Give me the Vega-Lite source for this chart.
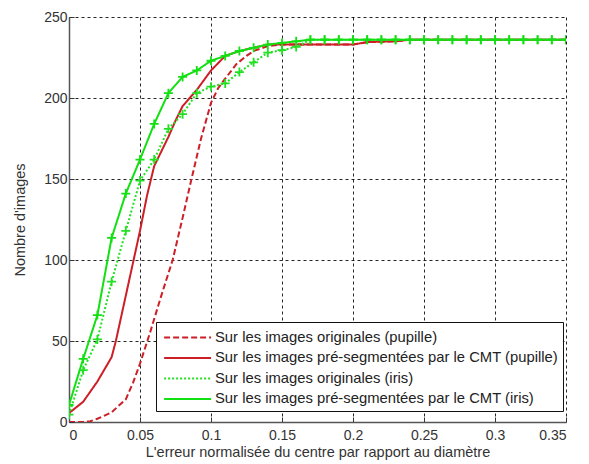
{
  "$schema": "https://vega.github.io/schema/vega-lite/v6.json",
  "width": 497,
  "height": 405,
  "autosize": "none",
  "padding": {"left": 69, "top": 17, "right": 23, "bottom": 42},
  "background": "white",
  "config": {
    "view": {"stroke": null},
    "font": "Liberation Sans",
    "axis": {
      "labelFont": "Liberation Sans",
      "titleFont": "Liberation Sans",
      "labelFontSize": 14,
      "titleFontSize": 14.5,
      "titleFontWeight": "normal",
      "labelColor": "#333",
      "titleColor": "#333",
      "grid": true,
      "gridColor": "#000",
      "gridDash": [3, 3],
      "gridOpacity": 0.85,
      "gridWidth": 1,
      "tickSize": -5,
      "tickColor": "#333",
      "domainColor": "#555",
      "domainWidth": 1.5
    }
  },
  "data": {
    "values": [
      {"series": "Sur les images originales (pupille)", "x": 0, "y": 0},
      {"series": "Sur les images originales (pupille)", "x": 0.01, "y": 0},
      {"series": "Sur les images originales (pupille)", "x": 0.015, "y": 0.5},
      {"series": "Sur les images originales (pupille)", "x": 0.02, "y": 2},
      {"series": "Sur les images originales (pupille)", "x": 0.03, "y": 6},
      {"series": "Sur les images originales (pupille)", "x": 0.04, "y": 14},
      {"series": "Sur les images originales (pupille)", "x": 0.045, "y": 24},
      {"series": "Sur les images originales (pupille)", "x": 0.05, "y": 36},
      {"series": "Sur les images originales (pupille)", "x": 0.057, "y": 55},
      {"series": "Sur les images originales (pupille)", "x": 0.065, "y": 78},
      {"series": "Sur les images originales (pupille)", "x": 0.073, "y": 100},
      {"series": "Sur les images originales (pupille)", "x": 0.08, "y": 126},
      {"series": "Sur les images originales (pupille)", "x": 0.086, "y": 149},
      {"series": "Sur les images originales (pupille)", "x": 0.093, "y": 175},
      {"series": "Sur les images originales (pupille)", "x": 0.1, "y": 197},
      {"series": "Sur les images originales (pupille)", "x": 0.105, "y": 206},
      {"series": "Sur les images originales (pupille)", "x": 0.11, "y": 212},
      {"series": "Sur les images originales (pupille)", "x": 0.118, "y": 221},
      {"series": "Sur les images originales (pupille)", "x": 0.125, "y": 226},
      {"series": "Sur les images originales (pupille)", "x": 0.13, "y": 229},
      {"series": "Sur les images originales (pupille)", "x": 0.14, "y": 232},
      {"series": "Sur les images originales (pupille)", "x": 0.15, "y": 233},
      {"series": "Sur les images originales (pupille)", "x": 0.2, "y": 233},
      {"series": "Sur les images originales (pupille)", "x": 0.21, "y": 234.5},
      {"series": "Sur les images originales (pupille)", "x": 0.23, "y": 235},
      {"series": "Sur les images originales (pupille)", "x": 0.24, "y": 236},
      {"series": "Sur les images originales (pupille)", "x": 0.35, "y": 236},

      {"series": "Sur les images pré-segmentées par le CMT (pupille)", "x": 0, "y": 5.5},
      {"series": "Sur les images pré-segmentées par le CMT (pupille)", "x": 0.01, "y": 12.5},
      {"series": "Sur les images pré-segmentées par le CMT (pupille)", "x": 0.02, "y": 25},
      {"series": "Sur les images pré-segmentées par le CMT (pupille)", "x": 0.03, "y": 40},
      {"series": "Sur les images pré-segmentées par le CMT (pupille)", "x": 0.033, "y": 50},
      {"series": "Sur les images pré-segmentées par le CMT (pupille)", "x": 0.04, "y": 78},
      {"series": "Sur les images pré-segmentées par le CMT (pupille)", "x": 0.05, "y": 118},
      {"series": "Sur les images pré-segmentées par le CMT (pupille)", "x": 0.055, "y": 140},
      {"series": "Sur les images pré-segmentées par le CMT (pupille)", "x": 0.06, "y": 158},
      {"series": "Sur les images pré-segmentées par le CMT (pupille)", "x": 0.065, "y": 167},
      {"series": "Sur les images pré-segmentées par le CMT (pupille)", "x": 0.07, "y": 176},
      {"series": "Sur les images pré-segmentées par le CMT (pupille)", "x": 0.075, "y": 186},
      {"series": "Sur les images pré-segmentées par le CMT (pupille)", "x": 0.08, "y": 195},
      {"series": "Sur les images pré-segmentées par le CMT (pupille)", "x": 0.09, "y": 205},
      {"series": "Sur les images pré-segmentées par le CMT (pupille)", "x": 0.1, "y": 217},
      {"series": "Sur les images pré-segmentées par le CMT (pupille)", "x": 0.11, "y": 226},
      {"series": "Sur les images pré-segmentées par le CMT (pupille)", "x": 0.12, "y": 229},
      {"series": "Sur les images pré-segmentées par le CMT (pupille)", "x": 0.13, "y": 231},
      {"series": "Sur les images pré-segmentées par le CMT (pupille)", "x": 0.14, "y": 233},
      {"series": "Sur les images pré-segmentées par le CMT (pupille)", "x": 0.2, "y": 233},
      {"series": "Sur les images pré-segmentées par le CMT (pupille)", "x": 0.21, "y": 234.5},
      {"series": "Sur les images pré-segmentées par le CMT (pupille)", "x": 0.23, "y": 235},
      {"series": "Sur les images pré-segmentées par le CMT (pupille)", "x": 0.24, "y": 236},
      {"series": "Sur les images pré-segmentées par le CMT (pupille)", "x": 0.35, "y": 236},

      {"series": "Sur les images originales (iris)", "x": 0, "y": 4.5},
      {"series": "Sur les images originales (iris)", "x": 0.01, "y": 32},
      {"series": "Sur les images originales (iris)", "x": 0.02, "y": 51},
      {"series": "Sur les images originales (iris)", "x": 0.03, "y": 86.6},
      {"series": "Sur les images originales (iris)", "x": 0.04, "y": 118},
      {"series": "Sur les images originales (iris)", "x": 0.05, "y": 149},
      {"series": "Sur les images originales (iris)", "x": 0.06, "y": 162},
      {"series": "Sur les images originales (iris)", "x": 0.07, "y": 181},
      {"series": "Sur les images originales (iris)", "x": 0.08, "y": 190},
      {"series": "Sur les images originales (iris)", "x": 0.09, "y": 203},
      {"series": "Sur les images originales (iris)", "x": 0.1, "y": 207},
      {"series": "Sur les images originales (iris)", "x": 0.11, "y": 209},
      {"series": "Sur les images originales (iris)", "x": 0.12, "y": 216},
      {"series": "Sur les images originales (iris)", "x": 0.13, "y": 222},
      {"series": "Sur les images originales (iris)", "x": 0.14, "y": 228},
      {"series": "Sur les images originales (iris)", "x": 0.15, "y": 229.5},
      {"series": "Sur les images originales (iris)", "x": 0.16, "y": 231.5},
      {"series": "Sur les images originales (iris)", "x": 0.17, "y": 236},
      {"series": "Sur les images originales (iris)", "x": 0.18, "y": 236},
      {"series": "Sur les images originales (iris)", "x": 0.19, "y": 236},
      {"series": "Sur les images originales (iris)", "x": 0.2, "y": 236},
      {"series": "Sur les images originales (iris)", "x": 0.21, "y": 236},
      {"series": "Sur les images originales (iris)", "x": 0.22, "y": 236},
      {"series": "Sur les images originales (iris)", "x": 0.23, "y": 236},
      {"series": "Sur les images originales (iris)", "x": 0.24, "y": 236},
      {"series": "Sur les images originales (iris)", "x": 0.25, "y": 236},
      {"series": "Sur les images originales (iris)", "x": 0.26, "y": 236},
      {"series": "Sur les images originales (iris)", "x": 0.27, "y": 236},
      {"series": "Sur les images originales (iris)", "x": 0.28, "y": 236},
      {"series": "Sur les images originales (iris)", "x": 0.29, "y": 236},
      {"series": "Sur les images originales (iris)", "x": 0.3, "y": 236},
      {"series": "Sur les images originales (iris)", "x": 0.31, "y": 236},
      {"series": "Sur les images originales (iris)", "x": 0.32, "y": 236},
      {"series": "Sur les images originales (iris)", "x": 0.33, "y": 236},
      {"series": "Sur les images originales (iris)", "x": 0.34, "y": 236},
      {"series": "Sur les images originales (iris)", "x": 0.35, "y": 236},

      {"series": "Sur les images pré-segmentées par le CMT (iris)", "x": 0, "y": 10.5},
      {"series": "Sur les images pré-segmentées par le CMT (iris)", "x": 0.01, "y": 39},
      {"series": "Sur les images pré-segmentées par le CMT (iris)", "x": 0.02, "y": 66},
      {"series": "Sur les images pré-segmentées par le CMT (iris)", "x": 0.03, "y": 113.6},
      {"series": "Sur les images pré-segmentées par le CMT (iris)", "x": 0.04, "y": 141},
      {"series": "Sur les images pré-segmentées par le CMT (iris)", "x": 0.05, "y": 162},
      {"series": "Sur les images pré-segmentées par le CMT (iris)", "x": 0.06, "y": 184},
      {"series": "Sur les images pré-segmentées par le CMT (iris)", "x": 0.07, "y": 203},
      {"series": "Sur les images pré-segmentées par le CMT (iris)", "x": 0.08, "y": 213},
      {"series": "Sur les images pré-segmentées par le CMT (iris)", "x": 0.09, "y": 217},
      {"series": "Sur les images pré-segmentées par le CMT (iris)", "x": 0.1, "y": 223},
      {"series": "Sur les images pré-segmentées par le CMT (iris)", "x": 0.11, "y": 226},
      {"series": "Sur les images pré-segmentées par le CMT (iris)", "x": 0.12, "y": 229},
      {"series": "Sur les images pré-segmentées par le CMT (iris)", "x": 0.13, "y": 231},
      {"series": "Sur les images pré-segmentées par le CMT (iris)", "x": 0.14, "y": 233},
      {"series": "Sur les images pré-segmentées par le CMT (iris)", "x": 0.15, "y": 234},
      {"series": "Sur les images pré-segmentées par le CMT (iris)", "x": 0.16, "y": 235},
      {"series": "Sur les images pré-segmentées par le CMT (iris)", "x": 0.17, "y": 236},
      {"series": "Sur les images pré-segmentées par le CMT (iris)", "x": 0.18, "y": 236},
      {"series": "Sur les images pré-segmentées par le CMT (iris)", "x": 0.19, "y": 236},
      {"series": "Sur les images pré-segmentées par le CMT (iris)", "x": 0.2, "y": 236},
      {"series": "Sur les images pré-segmentées par le CMT (iris)", "x": 0.21, "y": 236},
      {"series": "Sur les images pré-segmentées par le CMT (iris)", "x": 0.22, "y": 236},
      {"series": "Sur les images pré-segmentées par le CMT (iris)", "x": 0.23, "y": 236},
      {"series": "Sur les images pré-segmentées par le CMT (iris)", "x": 0.24, "y": 236},
      {"series": "Sur les images pré-segmentées par le CMT (iris)", "x": 0.25, "y": 236},
      {"series": "Sur les images pré-segmentées par le CMT (iris)", "x": 0.26, "y": 236},
      {"series": "Sur les images pré-segmentées par le CMT (iris)", "x": 0.27, "y": 236},
      {"series": "Sur les images pré-segmentées par le CMT (iris)", "x": 0.28, "y": 236},
      {"series": "Sur les images pré-segmentées par le CMT (iris)", "x": 0.29, "y": 236},
      {"series": "Sur les images pré-segmentées par le CMT (iris)", "x": 0.3, "y": 236},
      {"series": "Sur les images pré-segmentées par le CMT (iris)", "x": 0.31, "y": 236},
      {"series": "Sur les images pré-segmentées par le CMT (iris)", "x": 0.32, "y": 236},
      {"series": "Sur les images pré-segmentées par le CMT (iris)", "x": 0.33, "y": 236},
      {"series": "Sur les images pré-segmentées par le CMT (iris)", "x": 0.34, "y": 236},
      {"series": "Sur les images pré-segmentées par le CMT (iris)", "x": 0.35, "y": 236}
    ]
  },
  "encoding": {
    "x": {
      "field": "x", "type": "quantitative",
      "scale": {"domain": [0, 0.35], "nice": false, "zero": false},
      "axis": {"values": [0, 0.05, 0.1, 0.15, 0.2, 0.25, 0.3, 0.35], "format": "~g", "labelPadding": 11, "titlePadding": 3, "title": "L'erreur normalisée du centre par rapport au diamètre"}
    },
    "y": {
      "field": "y", "type": "quantitative",
      "scale": {"domain": [0, 250], "nice": false},
      "axis": {"values": [0, 50, 100, 150, 200, 250], "labelPadding": 7, "titlePadding": 16, "title": "Nombre d'images"}
    }
  },
  "layer": [
    {
      "mark": {"type": "line", "strokeWidth": 2, "clip": true},
      "encoding": {
        "color": {
          "field": "series", "type": "nominal",
          "scale": {
            "domain": ["Sur les images originales (pupille)", "Sur les images pré-segmentées par le CMT (pupille)", "Sur les images originales (iris)", "Sur les images pré-segmentées par le CMT (iris)"],
            "range": ["#cc1f26", "#cc1f26", "#22e022", "#11e011"]
          },
          "legend": {
            "title": null,
            "orient": "none",
            "legendX": 87,
            "legendY": 305,
            "symbolType": "M-1,0L4,0",
            "symbolSize": 353,
            "symbolStrokeWidth": 2,
            "symbolOffset": 2,
            "labelOffset": 31,
            "labelFontSize": 14.8,
            "labelFont": "Liberation Sans",
            "labelColor": "#222",
            "labelLimit": 420,
            "strokeColor": "#111",
            "fillColor": "white",
            "padding": 5,
            "rowPadding": 2.5
          }
        },
        "strokeDash": {
          "field": "series", "type": "nominal",
          "scale": {
            "domain": ["Sur les images originales (pupille)", "Sur les images pré-segmentées par le CMT (pupille)", "Sur les images originales (iris)", "Sur les images pré-segmentées par le CMT (iris)"],
            "range": [[6, 3], [1, 0], [2, 2], [1, 0]]
          },
          "legend": null
        }
      }
    },
    {
      "transform": [{"filter": "indexof(datum.series, '(iris)') >= 0"}],
      "mark": {"type": "point", "shape": "M-1,0L1,0M0,-1L0,1", "size": 81, "strokeWidth": 1.8, "filled": false, "opacity": 1, "clip": true},
      "encoding": {
        "color": {"field": "series", "type": "nominal", "legend": null}
      }
    }
  ]
}
